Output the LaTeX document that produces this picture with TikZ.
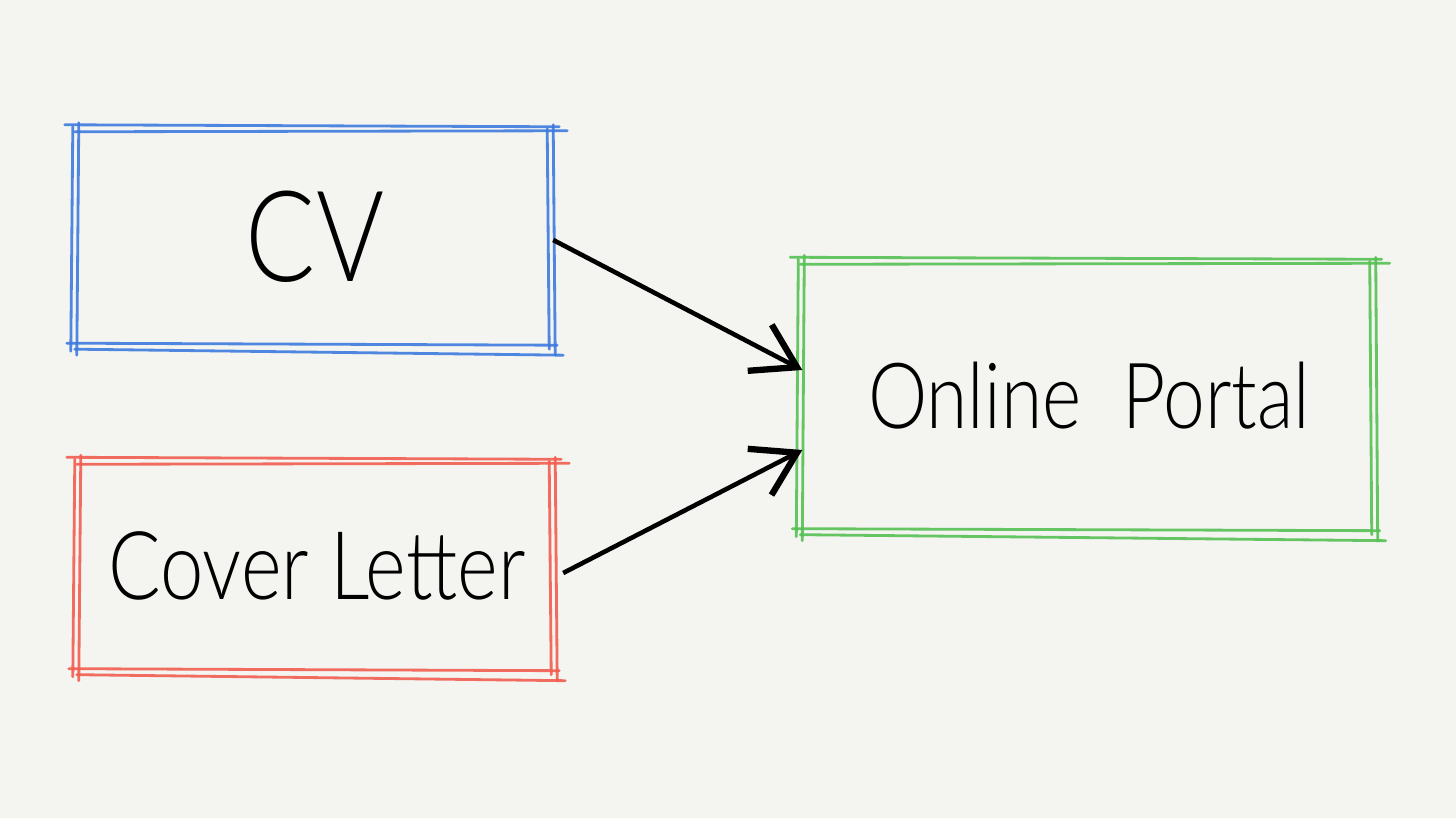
\documentclass[tikz,border=0pt]{standalone}
\usepackage{fontspec}
\newfontfamily\handfont[FakeStretch=0.82]{Lato Light}
\usepackage{tikz}
\usetikzlibrary{arrows.meta}

\definecolor{paper}{RGB}{244,245,241}
\definecolor{cvblue}{RGB}{62,122,222}
\definecolor{letterred}{RGB}{242,92,80}
\definecolor{portalgreen}{RGB}{86,192,84}

% double pencil stroke round a node, lines running a bit past the corners
\newcommand{\sketchbox}[2]{%
  \draw[pencil,#2] ([shift={(-0.12,0.04)}]#1.north west) -- ([shift={(0.06,0.02)}]#1.north east);
  \draw[pencil,#2] ([shift={(-0.02,-0.03)}]#1.north west) -- ([shift={(0.14,-0.02)}]#1.north east);
  \draw[pencil,#2] ([shift={(-0.1,0.02)}]#1.south west) -- ([shift={(0.04,0.0)}]#1.south east);
  \draw[pencil,#2] ([shift={(-0.02,-0.04)}]#1.south west) -- ([shift={(0.1,-0.1)}]#1.south east);
  \draw[pencil,#2] ([shift={(0.02,0.06)}]#1.north west) -- ([shift={(0.0,-0.1)}]#1.south west);
  \draw[pencil,#2] ([shift={(-0.04,0.02)}]#1.north west) -- ([shift={(-0.06,-0.06)}]#1.south west);
  \draw[pencil,#2] ([shift={(0.0,0.04)}]#1.north east) -- ([shift={(0.02,-0.1)}]#1.south east);
  \draw[pencil,#2] ([shift={(-0.06,0.0)}]#1.north east) -- ([shift={(-0.04,-0.04)}]#1.south east);
}

\begin{document}
\begin{tikzpicture}[doc_node/.style={rectangle,inner sep=0pt,font=\handfont},
    pencil/.style={line width=0.8pt,line cap=round,opacity=0.9},
    link/.style={line width=1.3pt,-{Straight Barb[length=4.2mm,width=5.2mm,line width=1.8pt]}}]
    \fill[paper] (0,0) rectangle (14.56,8.18);
    \useasboundingbox (0,0) rectangle (14.56,8.18);

	\node[doc_node,minimum width=4.75cm,minimum height=2.15cm,font=\handfont\fontsize{36}{40}\selectfont] (cv) at (3.15,5.81) {CV};
    \node[doc_node,minimum width=4.75cm,minimum height=2.08cm,font=\handfont\fontsize{27}{32}\selectfont] (letter) at (3.17,2.52) {Cover Letter};
    \node[doc_node,minimum width=5.72cm,minimum height=2.68cm,font=\handfont\fontsize{26}{30}\selectfont] (portal) at (10.89,4.22) {Online\ \ Portal};

    \sketchbox{cv}{cvblue}
    \sketchbox{letter}{letterred}
    \sketchbox{portal}{portalgreen}

    \draw[link] ([yshift=-0.03cm]cv.east) -- ([yshift=0.26cm]portal.west);
    \draw[link] ([xshift=0.08cm,yshift=-0.07cm]letter.east) -- ([yshift=-0.54cm]portal.west);
\end{tikzpicture}
\end{document}
